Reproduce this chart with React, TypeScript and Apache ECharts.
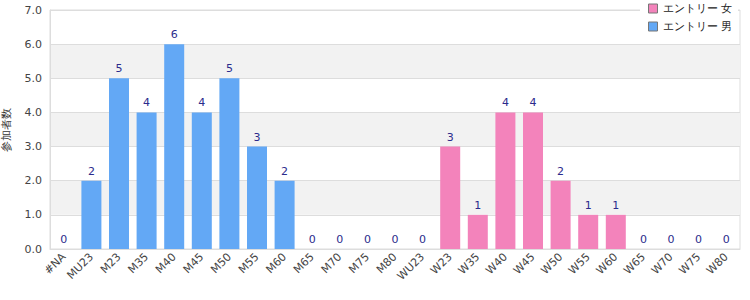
import React, { useEffect, useRef } from "react";
import * as echarts from "echarts";

const categories = ["#NA","MU23","M23","M35","M40","M45","M50","M55","M60","M65","M70","M75","M80","WU23","W23","W35","W40","W45","W50","W55","W60","W65","W70","W75","W80"];
const menValues = [0,2,5,4,6,4,5,3,2,0,0,0,0,0,null,null,null,null,null,null,null,null,null,null,null];
const womenValues = [null,null,null,null,null,null,null,null,null,null,null,null,null,null,3,1,4,4,2,1,1,0,0,0,0];
const yTicks = [0,1,2,3,4,5,6,7];
const seriesNames = ["エントリー 女", "エントリー 男"];
const yAxisTitle = "参加者数";

export default function App() {
  const ref = useRef<HTMLDivElement>(null);
  useEffect(() => {
    if (!ref.current) return;
    const chart = echarts.init(ref.current, null, { renderer: "svg" });
    const font = "DejaVu Sans";
    const label = { show: true, position: "top", color: "#2b2b8c", fontSize: 11, fontFamily: font, distance: 4 };
    chart.setOption({
      animation: false,
      textStyle: { fontFamily: font },
      grid: { left: 50, right: 10, top: 10, bottom: 51, show: true, borderColor: "#dddddd", borderWidth: 1, containLabel: false, outerBoundsMode: "none" },
      legend: {
        orient: "vertical",
        right: 12,
        top: 2,
        icon: "rect",
        itemWidth: 9,
        itemHeight: 9,
        itemGap: 7,
        backgroundColor: "#ffffff",
        padding: [1, 6, 2, 8],
        itemStyle: { borderColor: "#777777", borderWidth: 1 },
        textStyle: { fontSize: 11, color: "#222", fontFamily: font },
        data: seriesNames,
      },
      xAxis: {
        type: "category",
        data: categories,
        axisLine: { lineStyle: { color: "#dddddd" } },
        axisTick: { show: false },
        axisLabel: { rotate: 45, color: "#444", fontSize: 11, fontFamily: font, interval: 0, margin: 6 },
      },
      yAxis: {
        type: "value",
        min: yTicks[0],
        max: yTicks[yTicks.length - 1],
        interval: 1,
        name: yAxisTitle,
        nameLocation: "middle",
        nameGap: 38,
        nameTextStyle: { color: "#333", fontSize: 11, fontFamily: font },
        axisLine: { show: true, lineStyle: { color: "#dddddd" } },
        axisTick: { show: false },
        axisLabel: { color: "#444", fontSize: 11, fontFamily: font, formatter: (v: number) => v.toFixed(1), margin: 8 },
        splitLine: { lineStyle: { color: "#dddddd" } },
        splitArea: { show: true, areaStyle: { color: ["rgba(255,255,255,0)", "#f2f2f2"] } },
      },
      series: [
        {
          name: seriesNames[0],
          type: "bar",
          stack: "total",
          data: womenValues,
          barWidth: 20,
          itemStyle: { color: "#f383bb" },
          emphasis: { disabled: true },
          label,
        },
        {
          name: seriesNames[1],
          type: "bar",
          stack: "total",
          data: menValues,
          barWidth: 20,
          itemStyle: { color: "#63a8f5" },
          emphasis: { disabled: true },
          label,
        },
      ],
    });
    return () => chart.dispose();
  }, []);
  return <div ref={ref} style={{ width: 750, height: 300, position: "absolute", left: 0, top: 0 }} />;
}
